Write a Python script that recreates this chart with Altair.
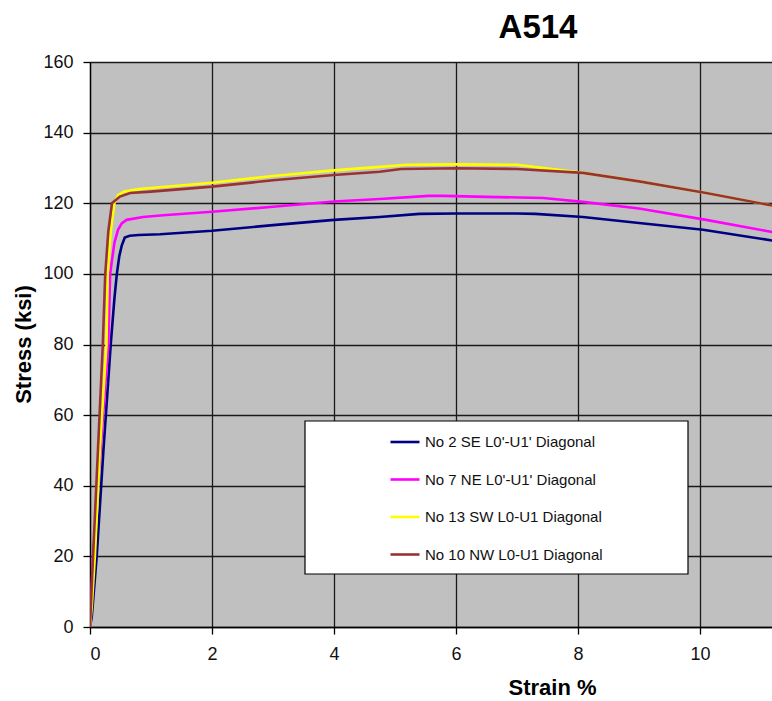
import altair as alt
import pandas as pd

FONT = "Liberation Sans, Arial, sans-serif"

series_names = [
    "No 2 SE L0'-U1' Diagonal",
    "No 7 NE L0'-U1' Diagonal",
    "No 13 SW L0-U1 Diagonal",
    "No 10 NW L0-U1 Diagonal",
]
series_colors = ["#000080", "#FF00FF", "#FFFF00", "#993333"]
series_widths = [2.6, 2.6, 2.6, 1.5]

# No 2 SE
strain_se = [0.0, 0.03, 0.11, 0.22, 0.34, 0.40, 0.44, 0.48, 0.52, 0.57, 0.65, 0.80, 1.15, 2.0, 3.0, 4.0, 4.75, 5.4, 6.0, 7.0, 7.3, 8.08, 9.0, 10.05, 11.2]
stress_se = [0.0, 3.0, 20.0, 50.0, 80.0, 93.0, 100.0, 105.0, 108.0, 110.3, 110.8, 111.0, 111.2, 112.2, 113.8, 115.3, 116.1, 117.0, 117.1, 117.1, 117.0, 116.1, 114.4, 112.5, 109.4]

# No 7 NE
strain_ne = [0.0, 0.02, 0.05, 0.15, 0.30, 0.33, 0.40, 0.46, 0.52, 0.60, 0.87, 1.2, 2.0, 3.0, 4.0, 4.75, 5.55, 5.8, 6.5, 7.43, 8.08, 9.0, 10.1, 11.2]
stress_ne = [0.0, 8.0, 20.0, 45.0, 80.0, 100.0, 108.8, 112.5, 114.3, 115.3, 116.1, 116.6, 117.6, 119.0, 120.5, 121.2, 122.1, 122.1, 121.8, 121.5, 120.4, 118.5, 115.3, 111.8]

# No 13 SW
strain_sw = [0.0, 0.03, 0.08, 0.16, 0.27, 0.29, 0.34, 0.40, 0.46, 0.56, 0.80, 1.0, 2.0, 3.0, 4.0, 4.75, 5.2, 6.0, 7.0, 8.08, 9.0, 10.1, 11.2]
stress_sw = [0.0, 6.0, 20.0, 50.0, 80.0, 100.0, 112.0, 120.0, 122.3, 123.3, 124.0, 124.3, 125.8, 127.7, 129.3, 130.3, 130.9, 131.0, 130.9, 128.6, 126.2, 122.9, 119.3]

# No 10 NW
strain_nw = [0.0, 0.02, 0.05, 0.13, 0.21, 0.25, 0.30, 0.36, 0.49, 0.66, 1.0, 2.0, 3.0, 4.0, 4.75, 5.1, 6.0, 7.0, 8.08, 9.0, 10.1, 11.2]
stress_nw = [0.0, 8.0, 20.0, 50.0, 80.0, 100.0, 112.0, 120.0, 121.9, 122.9, 123.3, 124.7, 126.5, 128.0, 128.9, 129.7, 129.9, 129.7, 128.6, 126.2, 122.9, 119.3]

x_ticks = [0, 2, 4, 6, 8, 10]
y_ticks = [0, 20, 40, 60, 80, 100, 120, 140, 160]

rows = []
for name, xs, ys in zip(
    series_names,
    [strain_se, strain_ne, strain_sw, strain_nw],
    [stress_se, stress_ne, stress_sw, stress_nw],
):
    for i, (a, b) in enumerate(zip(xs, ys)):
        rows.append({"series": name, "strain": a, "stress": b, "idx": i})
df = pd.DataFrame(rows)

legend_spec = alt.Legend(
    orient="none",
    legendX=299,
    legendY=364,
    title=None,
    symbolType="stroke",
    symbolSize=841,
    symbolStrokeWidth=2.5,
    labelFont=FONT,
    labelFontSize=15,
    labelColor="#111111",
    labelOffset=4,
    rowPadding=13.5,
    padding=0,
    labelLimit=400,
)

lines = (
    alt.Chart(df)
    .mark_line(clip=True)
    .encode(
        x=alt.X(
            "strain:Q",
            scale=alt.Scale(domain=[0, 11.18], nice=False, zero=False),
            axis=alt.Axis(
                values=x_ticks,
                title="Strain %",
                titleX=462,
                titleY=60,
                titleAlign="center",
                titleBaseline="middle",
                labelPadding=11,
            ),
        ),
        y=alt.Y(
            "stress:Q",
            scale=alt.Scale(domain=[0, 160], nice=False),
            axis=alt.Axis(
                values=y_ticks,
                title="Stress (ksi)",
                titleX=-67,
                titleY=282,
                titleAngle=270,
                titleAlign="center",
                titleBaseline="middle",
                labelPadding=10,
            ),
        ),
        color=alt.Color(
            "series:N",
            scale=alt.Scale(domain=series_names, range=series_colors),
            sort=series_names,
            legend=legend_spec,
        ),
        strokeWidth=alt.StrokeWidth(
            "series:N",
            scale=alt.Scale(domain=series_names, range=series_widths),
            sort=series_names,
            legend=legend_spec,
        ),
        order="idx:Q",
    )
)

box = (
    alt.Chart(pd.DataFrame({"k": [0]}))
    .mark_rect(fill="white", stroke="#000000", strokeWidth=1.2)
    .encode(
        x=alt.value(215),
        x2=alt.value(598),
        y=alt.value(359),
        y2=alt.value(512),
    )
)

chart = (
    alt.layer(box, lines)
    .properties(
        width=682,
        height=565,
        autosize=alt.AutoSizeParams(type="none"),
        padding={"left": 90, "top": 62, "right": 0, "bottom": 74},
        background="white",
        title=alt.TitleParams(
            "A514",
            font=FONT,
            fontSize=33,
            fontWeight="bold",
            color="#000000",
            anchor="middle",
            frame="group",
            dx=107,
            dy=33,
            offset=15,
            baseline="alphabetic",
        ),
    )
    .configure_view(fill="#C0C0C0", stroke="#808080", strokeWidth=1)
    .configure_axis(
        labelFont=FONT,
        labelFontSize=18,
        labelColor="#111111",
        titleFont=FONT,
        titleFontSize=22,
        titleFontWeight="bold",
        titleColor="#000000",
        grid=True,
        gridColor="#1a1a1a",
        gridWidth=1.3,
        domainColor="#000000",
        domainWidth=1.3,
        tickColor="#000000",
        tickSize=7,
        tickWidth=1.3,
    )
)

chart.save("out.html", embed_options={"renderer": "svg", "actions": False})
